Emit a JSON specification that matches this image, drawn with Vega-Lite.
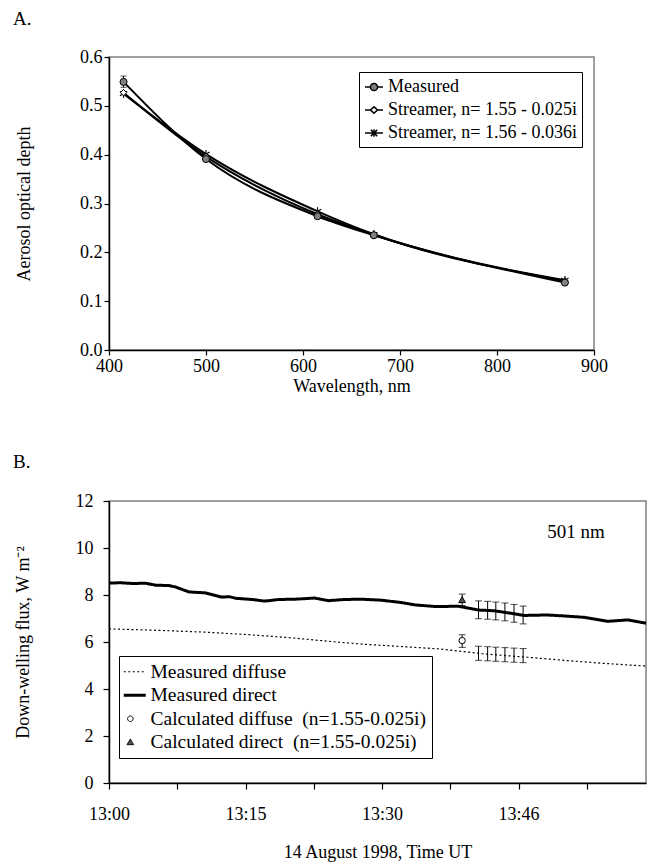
{
  "$schema": "https://vega.github.io/schema/vega-lite/v6.json",
  "background": "white",
  "padding": {"left": 12, "top": 9, "right": 0, "bottom": 0},
  "config": {
    "font": "Liberation Serif",
    "view": {"stroke": "#808080", "strokeWidth": 1.5},
    "axis": {"domainColor": "black", "domainWidth": 1.5, "tickColor": "black", "tickWidth": 1.2, "grid": false, "labelColor": "black", "titleColor": "black", "labelFont": "Liberation Serif", "titleFont": "Liberation Serif", "labelFontSize": 18, "titleFontSize": 18, "titleFontWeight": "normal", "labelFlush": false, "labelOverlap": false},
    "title": {"font": "Liberation Serif", "fontSize": 19, "fontWeight": "normal", "anchor": "start", "frame": "group", "color": "black"},
    "legend": {"labelFont": "Liberation Serif", "labelColor": "black", "labelFontSize": 18, "labelLimit": 400}
  },
  "spacing": 56,
  "resolve": {
    "scale": {"x": "independent", "y": "independent", "color": "independent", "strokeDash": "independent", "size": "independent"},
    "axis": {"x": "independent", "y": "independent"},
    "legend": {"color": "independent", "strokeDash": "independent", "size": "independent"}
  },
  "datasets": {
    "aod": [
      {"wavelength": 415, "aod": 0.549, "series": "Measured"},
      {"wavelength": 500, "aod": 0.391, "series": "Measured"},
      {"wavelength": 615, "aod": 0.274, "series": "Measured"},
      {"wavelength": 673, "aod": 0.235, "series": "Measured"},
      {"wavelength": 870, "aod": 0.138, "series": "Measured"},
      {"wavelength": 415, "aod": 0.527, "series": "Streamer, n= 1.55 - 0.025i"},
      {"wavelength": 500, "aod": 0.396, "series": "Streamer, n= 1.55 - 0.025i"},
      {"wavelength": 615, "aod": 0.278, "series": "Streamer, n= 1.55 - 0.025i"},
      {"wavelength": 673, "aod": 0.236, "series": "Streamer, n= 1.55 - 0.025i"},
      {"wavelength": 870, "aod": 0.141, "series": "Streamer, n= 1.55 - 0.025i"},
      {"wavelength": 415, "aod": 0.525, "series": "Streamer, n= 1.56 - 0.036i"},
      {"wavelength": 500, "aod": 0.401, "series": "Streamer, n= 1.56 - 0.036i"},
      {"wavelength": 615, "aod": 0.284, "series": "Streamer, n= 1.56 - 0.036i"},
      {"wavelength": 673, "aod": 0.237, "series": "Streamer, n= 1.56 - 0.036i"},
      {"wavelength": 870, "aod": 0.143, "series": "Streamer, n= 1.56 - 0.036i"}
    ],
    "aodErr": [
      {"wavelength": 415, "lo": 0.538, "hi": 0.561},
      {"wavelength": 500, "lo": 0.386, "hi": 0.396},
      {"wavelength": 615, "lo": 0.270, "hi": 0.278},
      {"wavelength": 673, "lo": 0.231, "hi": 0.239},
      {"wavelength": 870, "lo": 0.135, "hi": 0.141}
    ],
    "flux": [
      {"t": 0, "flux": 8.51, "series": "Measured direct"},
      {"t": 1.3, "flux": 8.52, "series": "Measured direct"},
      {"t": 2.6, "flux": 8.49, "series": "Measured direct"},
      {"t": 4.0, "flux": 8.5, "series": "Measured direct"},
      {"t": 5.1, "flux": 8.42, "series": "Measured direct"},
      {"t": 6.6, "flux": 8.4, "series": "Measured direct"},
      {"t": 7.3, "flux": 8.34, "series": "Measured direct"},
      {"t": 8.8, "flux": 8.13, "series": "Measured direct"},
      {"t": 10.6, "flux": 8.09, "series": "Measured direct"},
      {"t": 12.4, "flux": 7.91, "series": "Measured direct"},
      {"t": 13.2, "flux": 7.93, "series": "Measured direct"},
      {"t": 13.9, "flux": 7.86, "series": "Measured direct"},
      {"t": 15.7, "flux": 7.81, "series": "Measured direct"},
      {"t": 17.1, "flux": 7.74, "series": "Measured direct"},
      {"t": 18.7, "flux": 7.81, "series": "Measured direct"},
      {"t": 20.4, "flux": 7.82, "series": "Measured direct"},
      {"t": 22.6, "flux": 7.87, "series": "Measured direct"},
      {"t": 24.1, "flux": 7.76, "series": "Measured direct"},
      {"t": 25.9, "flux": 7.81, "series": "Measured direct"},
      {"t": 27.8, "flux": 7.82, "series": "Measured direct"},
      {"t": 29.9, "flux": 7.78, "series": "Measured direct"},
      {"t": 32.1, "flux": 7.68, "series": "Measured direct"},
      {"t": 33.6, "flux": 7.58, "series": "Measured direct"},
      {"t": 35.8, "flux": 7.51, "series": "Measured direct"},
      {"t": 38.4, "flux": 7.52, "series": "Measured direct"},
      {"t": 40.6, "flux": 7.36, "series": "Measured direct"},
      {"t": 42.3, "flux": 7.33, "series": "Measured direct"},
      {"t": 44.2, "flux": 7.22, "series": "Measured direct"},
      {"t": 45.6, "flux": 7.13, "series": "Measured direct"},
      {"t": 48.2, "flux": 7.15, "series": "Measured direct"},
      {"t": 50.3, "flux": 7.1, "series": "Measured direct"},
      {"t": 52.2, "flux": 7.05, "series": "Measured direct"},
      {"t": 54.8, "flux": 6.88, "series": "Measured direct"},
      {"t": 57.0, "flux": 6.94, "series": "Measured direct"},
      {"t": 59, "flux": 6.8, "series": "Measured direct"},
      {"t": 0, "flux": 6.56, "series": "Measured diffuse"},
      {"t": 5.9, "flux": 6.49, "series": "Measured diffuse"},
      {"t": 10.5, "flux": 6.42, "series": "Measured diffuse"},
      {"t": 15.4, "flux": 6.31, "series": "Measured diffuse"},
      {"t": 20, "flux": 6.18, "series": "Measured diffuse"},
      {"t": 24.1, "flux": 6.03, "series": "Measured diffuse"},
      {"t": 27.8, "flux": 5.91, "series": "Measured diffuse"},
      {"t": 32, "flux": 5.81, "series": "Measured diffuse"},
      {"t": 36.5, "flux": 5.7, "series": "Measured diffuse"},
      {"t": 41, "flux": 5.5, "series": "Measured diffuse"},
      {"t": 46.0, "flux": 5.35, "series": "Measured diffuse"},
      {"t": 50, "flux": 5.22, "series": "Measured diffuse"},
      {"t": 54, "flux": 5.1, "series": "Measured diffuse"},
      {"t": 58.4, "flux": 4.99, "series": "Measured diffuse"},
      {"t": 59, "flux": 4.98, "series": "Measured diffuse"}
    ],
    "calc": [
      {"t": 38.8, "flux": 6.06, "lo": 5.77, "hi": 6.31, "series": "Calculated diffuse\u00a0 (n=1.55-0.025i)"},
      {"t": 38.8, "flux": 7.8, "lo": 7.55, "hi": 8.04, "series": "Calculated direct\u00a0 (n=1.55-0.025i)"}
    ],
    "bars": [
      {"t": 40.6, "lo": 6.99, "hi": 7.75},
      {"t": 41.6, "lo": 6.97, "hi": 7.73},
      {"t": 42.5, "lo": 6.94, "hi": 7.7},
      {"t": 43.5, "lo": 6.9, "hi": 7.66},
      {"t": 44.5, "lo": 6.84, "hi": 7.6},
      {"t": 45.5, "lo": 6.77, "hi": 7.53},
      {"t": 40.6, "lo": 5.22, "hi": 5.82},
      {"t": 41.6, "lo": 5.2, "hi": 5.8},
      {"t": 42.5, "lo": 5.18, "hi": 5.78},
      {"t": 43.5, "lo": 5.16, "hi": 5.76},
      {"t": 44.5, "lo": 5.14, "hi": 5.74},
      {"t": 45.5, "lo": 5.12, "hi": 5.72}
    ],
    "note": [{"t": 51.3, "flux": 10.7, "label": "501 nm"}]
  },
  "vconcat": [
    {
      "width": 485,
      "height": 293,
      "title": {"text": "A.", "dx": -96, "offset": 19},
      "layer": [
        {
          "data": {"name": "aod"},
          "mark": {"type": "line", "interpolate": "monotone", "strokeWidth": 2},
          "encoding": {
            "x": {"field": "wavelength", "type": "quantitative", "scale": {"domain": [400, 900], "nice": false},
                  "axis": {"values": [400, 500, 600, 700, 800, 900], "tickSize": 5, "labelPadding": 2, "title": "Wavelength, nm", "titlePadding": 2}},
            "y": {"field": "aod", "type": "quantitative", "scale": {"domain": [0, 0.6], "nice": false},
                  "axis": {"values": [0, 0.1, 0.2, 0.3, 0.4, 0.5, 0.6], "format": ".1f", "tickSize": 5, "labelPadding": 2, "title": "Aerosol optical depth", "titlePadding": 46}},
            "color": {"field": "series", "type": "nominal",
                      "scale": {"domain": ["Measured", "Streamer, n= 1.55 - 0.025i", "Streamer, n= 1.56 - 0.036i"], "range": ["black", "black", "black"]},
                      "legend": {"title": null, "orient": "none", "legendX": 250, "legendY": 15, "strokeColor": "black", "fillColor": "white", "padding": 5, "symbolSize": 324, "symbolStrokeWidth": 1.5, "rowPadding": 4, "labelOffset": 4,
                        "encode": {"symbols": {"update": {
                          "shape": {"signal": "datum.value === 'Measured' ? 'M-1,0H-0.4M0.4,0H1M0.4,0A0.4,0.4,0,1,1,-0.4,0A0.4,0.4,0,1,1,0.4,0Z' : indexof(datum.value, '1.55') >= 0 ? 'M-1,0H-0.4M0.4,0H1M-0.4,0L0,-0.35L0.4,0L0,0.35Z' : 'M-1,0H1M-0.35,-0.35L0.35,0.35M-0.35,0.35L0.35,-0.35M0,-0.42V0.42'"},
                          "fill": {"signal": "datum.value === 'Measured' ? '#808080' : indexof(datum.value, '1.55') >= 0 ? 'white' : 'transparent'"},
                          "stroke": {"value": "black"}
                        }}}}}
          }
        },
        {
          "data": {"name": "aodErr"},
          "mark": {"type": "errorbar", "ticks": {"size": 6, "color": "black"}, "color": "black"},
          "encoding": {
            "x": {"field": "wavelength", "type": "quantitative", "title": "Wavelength, nm"},
            "y": {"field": "lo", "type": "quantitative", "title": "Aerosol optical depth"},
            "y2": {"field": "hi"}
          }
        },
        {
          "data": {"name": "aod"},
          "transform": [{"filter": "datum.series === 'Streamer, n= 1.56 - 0.036i'"}],
          "mark": {"type": "point", "shape": "M0,-1V1M-0.87,-0.5L0.87,0.5M-0.87,0.5L0.87,-0.5", "filled": false, "stroke": "black", "strokeWidth": 1.2, "opacity": 1, "size": 70},
          "encoding": {
            "x": {"field": "wavelength", "type": "quantitative"},
            "y": {"field": "aod", "type": "quantitative"}
          }
        },
        {
          "data": {"name": "aod"},
          "transform": [{"filter": "datum.series === 'Streamer, n= 1.55 - 0.025i'"}],
          "mark": {"type": "point", "shape": "diamond", "filled": true, "fill": "white", "stroke": "black", "strokeWidth": 1, "opacity": 1, "size": 40},
          "encoding": {
            "x": {"field": "wavelength", "type": "quantitative"},
            "y": {"field": "aod", "type": "quantitative"}
          }
        },
        {
          "data": {"name": "aod"},
          "transform": [{"filter": "datum.series === 'Measured'"}],
          "mark": {"type": "point", "shape": "circle", "filled": true, "fill": "#808080", "stroke": "black", "strokeWidth": 1, "opacity": 1, "size": 50},
          "encoding": {
            "x": {"field": "wavelength", "type": "quantitative"},
            "y": {"field": "aod", "type": "quantitative"}
          }
        }
      ]
    },
    {
      "width": 537,
      "height": 282,
      "title": {"text": "B.", "dx": -96, "offset": 20},
      "layer": [
        {
          "data": {"name": "flux"},
          "mark": {"type": "line"},
          "encoding": {
            "x": {"field": "t", "type": "quantitative", "scale": {"domain": [0, 59], "nice": false},
                  "axis": {"values": [0, 7.5, 15, 22.5, 30, 37.5, 45, 52.5], "labelExpr": "datum.value == 0 ? '13:00' : datum.value == 15 ? '13:15' : datum.value == 30 ? '13:30' : datum.value == 45 ? '13:46' : ''", "tickSize": 6, "labelPadding": 16, "title": "14 August 1998, Time UT", "titlePadding": 20}},
            "y": {"field": "flux", "type": "quantitative", "scale": {"domain": [0, 12], "nice": false},
                  "axis": {"values": [0, 2, 4, 6, 8, 10, 12], "tickSize": 6, "labelPadding": 10, "title": "Down-welling flux, W m\u207b\u00b2", "titlePadding": 43}},
            "color": {"field": "series", "type": "nominal",
                      "scale": {"domain": ["Measured diffuse", "Measured direct", "Calculated diffuse\u00a0 (n=1.55-0.025i)", "Calculated direct\u00a0 (n=1.55-0.025i)"], "range": ["black", "black", "black", "black"]},
                      "legend": {"title": null, "orient": "none", "legendX": 10, "legendY": 155, "strokeColor": "black", "fillColor": "white", "padding": 6, "symbolSize": 484, "rowPadding": 2.5, "labelOffset": 6, "labelFontSize": 19.5,
                        "encode": {"symbols": {"update": {
                          "shape": {"signal": "indexof(datum.value, 'Measured') === 0 ? 'M-1,0H1' : indexof(datum.value, 'Calculated diffuse') === 0 ? 'M-0.15,0A0.25,0.25,0,1,1,-0.65,0A0.25,0.25,0,1,1,-0.15,0Z' : 'M-0.4,-0.3L-0.1,0.22L-0.7,0.22Z'"},
                          "strokeDash": {"signal": "datum.value === 'Measured diffuse' ? [2, 2.5] : [1, 0]"},
                          "strokeWidth": {"signal": "datum.value === 'Measured direct' ? 3 : 1"},
                          "fill": {"signal": "indexof(datum.value, 'Calculated diffuse') === 0 ? 'white' : indexof(datum.value, 'Calculated direct') === 0 ? '#555555' : 'transparent'"},
                          "stroke": {"value": "black"}
                        }}}}},
            "strokeDash": {"field": "series", "type": "nominal", "scale": {"domain": ["Measured diffuse", "Measured direct"], "range": [[2, 2.5], [1, 0]]}, "legend": null},
            "size": {"field": "series", "type": "ordinal", "scale": {"domain": ["Measured diffuse", "Measured direct"], "range": [1.2, 3]}, "legend": null}
          }
        },
        {
          "data": {"name": "bars"},
          "mark": {"type": "errorbar", "ticks": {"size": 7, "color": "black"}, "color": "black"},
          "encoding": {
            "x": {"field": "t", "type": "quantitative", "title": "14 August 1998, Time UT"},
            "y": {"field": "lo", "type": "quantitative", "title": "Down-welling flux, W m\u207b\u00b2"},
            "y2": {"field": "hi"}
          }
        },
        {
          "data": {"name": "calc"},
          "mark": {"type": "errorbar", "ticks": {"size": 7, "color": "black"}, "color": "black"},
          "encoding": {
            "x": {"field": "t", "type": "quantitative", "title": "14 August 1998, Time UT"},
            "y": {"field": "lo", "type": "quantitative", "title": "Down-welling flux, W m\u207b\u00b2"},
            "y2": {"field": "hi"}
          }
        },
        {
          "data": {"name": "calc"},
          "transform": [{"filter": "indexof(datum.series, 'Calculated diffuse') === 0"}],
          "mark": {"type": "point", "shape": "circle", "filled": true, "fill": "white", "stroke": "black", "strokeWidth": 1, "opacity": 1, "size": 40},
          "encoding": {
            "x": {"field": "t", "type": "quantitative"},
            "y": {"field": "flux", "type": "quantitative"}
          }
        },
        {
          "data": {"name": "calc"},
          "transform": [{"filter": "indexof(datum.series, 'Calculated direct') === 0"}],
          "mark": {"type": "point", "shape": "triangle-up", "filled": true, "fill": "#555555", "stroke": "black", "strokeWidth": 1, "opacity": 1, "size": 45},
          "encoding": {
            "x": {"field": "t", "type": "quantitative"},
            "y": {"field": "flux", "type": "quantitative"}
          }
        },
        {
          "data": {"name": "note"},
          "mark": {"type": "text", "fontSize": 19, "font": "Liberation Serif", "color": "black"},
          "encoding": {
            "x": {"field": "t", "type": "quantitative"},
            "y": {"field": "flux", "type": "quantitative"},
            "text": {"field": "label"}
          }
        }
      ]
    }
  ]
}
